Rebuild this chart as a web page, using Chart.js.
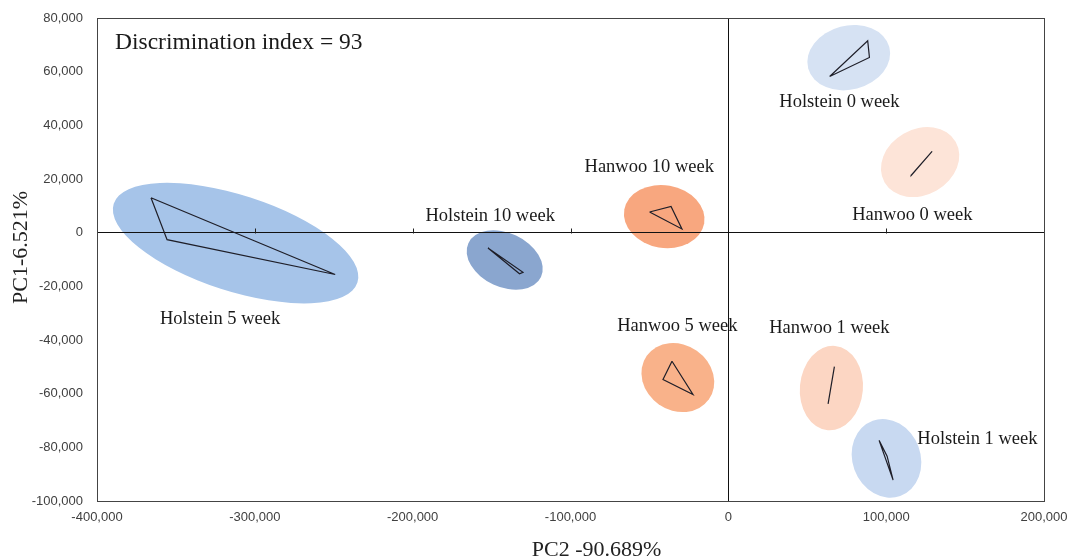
<!DOCTYPE html>
<html>
<head>
<meta charset="utf-8">
<script src="https://cdn.jsdelivr.net/npm/chart.js@4"></script>
<style>
  html, body { margin: 0; padding: 0; background: #fff; }
  #wrap { width: 1071px; height: 560px; }
</style>
</head>
<body>
<div id="wrap"><canvas id="pca"></canvas></div>
<script>
// groups, in drawing order
const groups = ['Holstein 5 week', 'Holstein 10 week', 'Hanwoo 10 week', 'Hanwoo 5 week',
                'Hanwoo 1 week', 'Holstein 1 week', 'Holstein 0 week', 'Hanwoo 0 week'];

// sample points of each group (joined as a closed polygon)
const pointsX = [
    [-365800, -355600, -249100],
    [-152300, -130100, -132300],
    [-49900, -36300, -29400],
    [-35700, -41400, -22400],
    [67200, 63200, 65100],
    [95500, 104400, 100600],
    [64200, 88300, 89400],
    [115800, 129100, 116200]
];
const pointsY = [
    [13000, -2600, -15600],
    [-5700, -14800, -15300],
    [7700, 9800, 1400],
    [-47900, -54700, -60300],
    [-49900, -63800, -57200],
    [-77400, -92200, -83300],
    [58200, 71500, 65300],
    [21300, 30300, 21600]
];

// confidence ellipses: centre and two conjugate half-axes, in data units
const ellipseCX = [-312200, -141700, -40600, -32000, 65300, 100200, 76300, 121500];
const ellipseCY = [-3900, -10200, 6000, -54000, -57900, -84100, 65200, 26300];
const ellipseAxisA = [[77200, -14700], [23000, -6300], [25300, -2600], [19700, -8100],
                      [-2300, -15700], [8700, -14000], [25700, 4000], [22500, 7600]];
const ellipseAxisB = [[-9400, -17000], [-7200, -9100], [-3500, -11500], [-12000, -10000],
                      [-19900, 1000], [-20300, -4300], [5300, -11500], [10500, -10600]];
const ellipseColors = ['#a6c4e9', '#8aa6cf', '#f8a77f', '#f9b28a',
                       '#fcd6c3', '#c8d9f1', '#d6e2f3', '#fde4d8'];

// text labels next to the groups
const labelText = ['Holstein 5 week', 'Holstein 10 week', 'Hanwoo 10 week', 'Hanwoo 5 week',
                   'Hanwoo 1 week', 'Holstein 1 week', 'Holstein 0 week', 'Hanwoo 0 week'];
const labelX = [-322000, -150900, -50100, -32300, 64000, 157800, 70400, 116600];
const labelY = [-32400, 6000, 24600, -35000, -35700, -77000, 48700, 6700];
const noteText = 'Discrimination index = 93';
const noteX = -388600;
const noteY = 70600;

const xTitle = 'PC2 -90.689%';
const yTitle = 'PC1-6.521%';

const serif = '"Liberation Serif", "Times New Roman", serif';
const sans = '"Liberation Sans", Arial, sans-serif';

const datasets = groups.map((g, i) => {
    const pts = pointsX[i].map((x, j) => ({ x: x, y: pointsY[i][j] }));
    pts.push(pts[0]);
    return {
        label: g,
        data: pts,
        showLine: true,
        borderColor: '#1e1e28',
        borderWidth: 1.2,
        pointRadius: 0,
        fill: false,
        tension: 0
    };
});

const pcaPlugin = {
    id: 'pcaExtras',
    beforeDraw(chart) {
        const { ctx, scales: { x, y } } = chart;
        ellipseCX.forEach((cx, i) => {
            const px = x.getPixelForValue(cx);
            const py = y.getPixelForValue(ellipseCY[i]);
            const a = ellipseAxisA[i], b = ellipseAxisB[i];
            const ax = x.getPixelForValue(cx + a[0]) - px;
            const ay = y.getPixelForValue(ellipseCY[i] + a[1]) - py;
            const bx = x.getPixelForValue(cx + b[0]) - px;
            const by = y.getPixelForValue(ellipseCY[i] + b[1]) - py;
            ctx.save();
            ctx.transform(ax, ay, bx, by, px, py);
            ctx.beginPath();
            ctx.arc(0, 0, 1, 0, Math.PI * 2);
            ctx.fillStyle = ellipseColors[i];
            ctx.fill();
            ctx.restore();
        });
    },
    afterDatasetsDraw(chart) {
        const { ctx, chartArea: area, scales: { x, y } } = chart;
        ctx.save();
        // frame
        ctx.strokeStyle = '#444';
        ctx.lineWidth = 1;
        ctx.strokeRect(area.left + 0.5, area.top + 0.5, area.right - area.left, area.bottom - area.top);
        // little tick marks on the zero line
        const y0 = Math.round(y.getPixelForValue(0)) + 0.5;
        ctx.strokeStyle = '#222';
        x.ticks.forEach(t => {
            if (t.value === 0 || t.value === x.min || t.value === x.max) return;
            const px = Math.round(x.getPixelForValue(t.value)) + 0.5;
            ctx.beginPath();
            ctx.moveTo(px, y0);
            ctx.lineTo(px, y0 - 5);
            ctx.stroke();
        });
        // group labels
        ctx.fillStyle = '#1a1a1a';
        ctx.textBaseline = 'middle';
        ctx.font = '18.5px ' + serif;
        ctx.textAlign = 'center';
        labelText.forEach((t, i) => {
            ctx.fillText(t, x.getPixelForValue(labelX[i]), y.getPixelForValue(labelY[i]));
        });
        ctx.font = '23.5px ' + serif;
        ctx.textAlign = 'left';
        ctx.fillText(noteText, x.getPixelForValue(noteX), y.getPixelForValue(noteY));

        // axis titles (sit a bit off-centre in the original)
        ctx.fillStyle = '#222';
        ctx.font = '22px ' + serif;
        ctx.textAlign = 'center';
        ctx.fillText(xTitle, (area.left + area.right) / 2 + 26, 550);
        ctx.translate(21, (area.top + area.bottom) / 2 - 12);
        ctx.rotate(-Math.PI / 2);
        ctx.fillText(yTitle, 0, 0);
        ctx.restore();
    }
};

const zeroLine = c => (c.tick && c.tick.value === 0) ? '#111' : 'rgba(0,0,0,0)';

new Chart(document.getElementById('pca'), {
    type: 'scatter',
    data: { datasets: datasets },
    options: {
        responsive: true,
        maintainAspectRatio: false,
        animation: false,
        layout: { padding: { top: 18, right: 27, left: 0, bottom: 0 } },
        plugins: {
            legend: { display: false },
            tooltip: { enabled: false }
        },
        scales: {
            x: {
                type: 'linear',
                min: -400000,
                max: 200000,
                afterFit: s => { s.height = 59; s.paddingLeft = 0; s.paddingRight = 0; },
                ticks: {
                    stepSize: 100000,
                    padding: 9,
                    color: '#404040',
                    font: { family: sans, size: 13 },
                    callback: v => v.toLocaleString('en-US')
                },
                grid: { color: zeroLine, drawTicks: false, lineWidth: 1 },
                border: { display: true, color: '#444' },
                title: { display: false }
            },
            y: {
                type: 'linear',
                min: -100000,
                max: 80000,
                afterFit: s => { s.width = 97; s.paddingTop = 0; s.paddingBottom = 0; },
                ticks: {
                    stepSize: 20000,
                    padding: 14,
                    color: '#404040',
                    font: { family: sans, size: 13 },
                    callback: v => v.toLocaleString('en-US')
                },
                grid: { color: zeroLine, drawTicks: false, lineWidth: 1 },
                border: { display: true, color: '#444' },
                title: { display: false }
            }
        }
    },
    plugins: [pcaPlugin]
});
</script>
</body>
</html>
